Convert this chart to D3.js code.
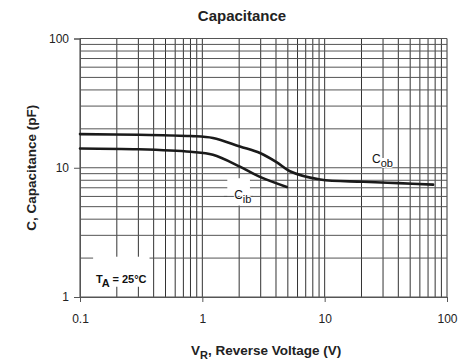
<!DOCTYPE html>
<html>
<head>
<meta charset="utf-8">
<script src="https://cdn.jsdelivr.net/npm/d3@7"></script>
<style>
  body { margin: 0; background: #fff; }
  svg { display: block; font-family: "Liberation Sans", Arial, sans-serif; }
</style>
</head>
<body>
<div id="chart"></div>
<script>
// reverse voltage (V) decades and capacitance (pF) decades
const vTicks = [0.1, 1, 10, 100];
const cTicks = [1, 10, 100];

// C_ob curve
const cobV = [0.1, 0.3, 0.8, 1.22, 2.03, 2.96, 4.07, 5.2, 9.2, 20.6, 40, 77];
const cobC = [18.2, 18.0, 17.6, 17.0, 14.6, 13.0, 11.0, 9.4, 8.1, 7.8, 7.6, 7.4];

// C_ib curve
const cibV = [0.1, 0.3, 0.8, 1.22, 2.03, 2.96, 4.9];
const cibC = [14.1, 13.9, 13.3, 12.6, 10.2, 8.5, 7.1];

const W = 458, H = 364;
const margin = {top: 38.5, right: 11, bottom: 67, left: 80};

const svg = d3.select('#chart')
  .append('svg')
    .attr('width', W)
    .attr('height', H);

const x = d3.scaleLog()
  .domain([0.1, 100])
  .range([margin.left, W - margin.right]);

const y = d3.scaleLog()
  .domain([1, 100])
  .range([H - margin.bottom, margin.top]);

// every 1..9 step in each decade
function decadeLines(lo, hi) {
    const out = [];
    for (let d = lo; d < hi; d *= 10)
        for (let k = 1; k <= 9; k++) out.push(+(k * d).toPrecision(3));
    out.push(hi);
    return out;
}

const grid = svg.append('g');
grid.selectAll('line.v')
  .data(decadeLines(0.1, 100))
  .join('line')
    .attr('class', 'v')
    .attr('x1', d => x(d)).attr('x2', d => x(d))
    .attr('y1', y(1)).attr('y2', y(100))
    .attr('stroke', '#333')
    .attr('stroke-width', 1);

grid.selectAll('line.h')
  .data(decadeLines(1, 100))
  .join('line')
    .attr('class', 'h')
    .attr('x1', x(0.1)).attr('x2', x(100))
    .attr('y1', d => y(d)).attr('y2', d => y(d))
    .attr('stroke', '#555')
    .attr('stroke-width', 1);

// white patches behind the annotations
const patch = (x0, y0, x1, y1) => svg.append('rect')
    .attr('x', x0).attr('y', y0)
    .attr('width', x1 - x0).attr('height', y1 - y0)
    .attr('fill', '#fff');

patch(x(22), y(11.9), x(38.5), y(10.3));
patch(x(1.6), y(8.3), x(2.45), y(5.1));
patch(x(0.128), y(2.05), x(0.37), y(1.2));

// the 6 pF line runs through the C_ib label
svg.append('line')
    .attr('x1', x(1.5)).attr('x2', x(2.6))
    .attr('y1', y(6)).attr('y2', y(6))
    .attr('stroke', '#555');

// axes: only the decade ticks stick out
svg.append('g')
    .attr('transform', `translate(0,${y(1)})`)
    .call(d3.axisBottom(x).tickValues(vTicks).tickSize(5).tickPadding(12)
        .tickFormat(d => String(d)))
    .call(g => g.select('.domain').attr('stroke', '#555'))
    .call(g => g.selectAll('.tick line').attr('stroke', '#555'))
    .call(g => g.selectAll('text').attr('font-size', 12).attr('fill', '#222')
        .style('font-family', '"Liberation Sans", Arial, sans-serif'));

svg.append('g')
    .attr('transform', `translate(${x(0.1)},0)`)
    .call(d3.axisLeft(y).tickValues(cTicks).tickSize(6).tickPadding(5)
        .tickFormat(d => String(d)))
    .call(g => g.select('.domain').attr('stroke', '#555'))
    .call(g => g.selectAll('.tick line').attr('stroke', '#555'))
    .call(g => g.selectAll('text').attr('font-size', 12).attr('fill', '#222')
        .style('font-family', '"Liberation Sans", Arial, sans-serif'));

// curves
const line = d3.line()
    .x(d => x(d[0]))
    .y(d => y(d[1]))
    .curve(d3.curveCatmullRom.alpha(0.5));

[[cobV, cobC], [cibV, cibC]].forEach(([vs, cs]) => {
    svg.append('path')
        .datum(d3.zip(vs, cs))
        .attr('d', line)
        .attr('fill', 'none')
        .attr('stroke', '#1a1a1a')
        .attr('stroke-width', 2.6)
        .attr('stroke-linecap', 'round');
});

// labels
function subLabel(px, py, main, sub, rest) {
    const t = svg.append('text')
        .attr('x', px).attr('y', py)
        .attr('font-size', 12)
        .attr('font-weight', 'bold')
        .attr('fill', '#111')
        .attr('stroke', '#fff').attr('stroke-width', 2)
        .attr('paint-order', 'stroke');
    t.append('tspan').text(main);
    t.append('tspan').attr('dy', 4).attr('font-size', 11).text(sub);
    if (rest) t.append('tspan').attr('dy', -4).text(rest);
    return t;
}

subLabel(x(24.4), y(10.9), 'C', 'ob').attr('font-weight', 'normal');
subLabel(x(1.82), y(5.75), 'C', 'ib').attr('font-weight', 'normal');
subLabel(x(0.135), y(1.28), 'T', 'A', ' = 25°C').attr('font-size', 11);

svg.append('text')
    .attr('x', 242).attr('y', 21)
    .attr('text-anchor', 'middle')
    .attr('font-size', 15).attr('font-weight', 'bold')
    .attr('fill', '#222')
    .text('Capacitance');

const xt = svg.append('text')
    .attr('x', x(Math.sqrt(10) * 1.05)).attr('y', 355)
    .attr('text-anchor', 'middle')
    .attr('font-size', 13.5).attr('font-weight', 'bold')
    .attr('fill', '#222');
xt.append('tspan').text('V');
xt.append('tspan').attr('dy', 4).attr('font-size', 11).text('R');
xt.append('tspan').attr('dy', -4).text(', Reverse Voltage (V)');

svg.append('text')
    .attr('transform', `translate(36,${y(10)}) rotate(-90)`)
    .attr('text-anchor', 'middle')
    .attr('font-size', 13.5).attr('font-weight', 'bold')
    .attr('fill', '#222')
    .text('C, Capacitance (pF)');
</script>
</body>
</html>
